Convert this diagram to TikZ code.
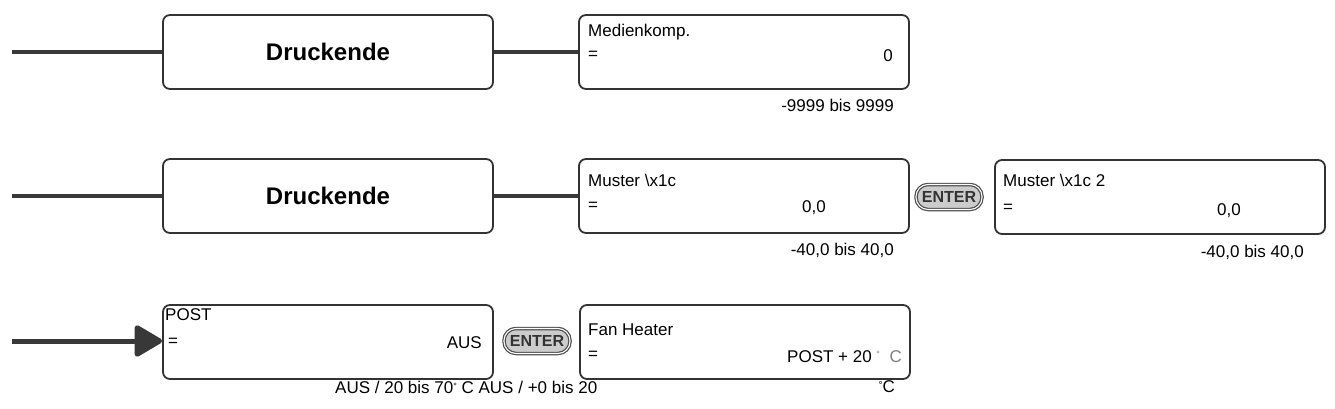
\documentclass[tikz,border=0pt]{standalone}
\usepackage{fontspec}
\setmainfont{Liberation Sans}
\usetikzlibrary{arrows.meta,positioning}

\begin{document}
\begin{tikzpicture}[
    x=1pt, y=-1pt,
    menu/.style={draw=black!80, line width=1.8pt, rounded corners=7pt, minimum width=330pt, minimum height=74pt, inner sep=0pt},
    conn/.style={draw=black!78, line width=4pt},
    arr/.style={draw=black!78, line width=5pt, -{Triangle[length=30pt,width=34pt,round]}},
    enterkey/.style={draw=black!70, fill=gray!40, line width=1.2pt, double=white, double distance=1.1pt, rounded corners=12pt, minimum width=66pt, minimum height=25pt, inner sep=0pt, text=black!80, font=\fontsize{16}{16}\selectfont\bfseries},
    txt/.style={font=\fontsize{17}{20}\selectfont, inner sep=0pt},
    head/.style={font=\fontsize{24}{26}\selectfont\bfseries},
]

\useasboundingbox[fill=white] (0,0) rectangle (1335,409);

% Row 1
\coordinate (start1) at (12,52);
\node[menu, head] (dr1) at (328,52) {Druckende};
\node[menu] (med) at (744,52) {};
\draw[conn] (start1) -- (dr1);
\draw[conn] (dr1) -- (med);

\node[txt, anchor=base west] (medT) at (588,37) {Medienkomp.};
\node[txt, anchor=base west] (medE) at (588,60) {=};
\node[txt, anchor=base east] (medV) at (893,62) {0};
\node[txt, anchor=base east] (medR) at (894,112) {-9999 bis 9999};

% Row 2
\coordinate (start2) at (12,196);
\node[menu, head] (dr2) at (328,196) {Druckende};
\node[menu] (mus) at (744,196) {};
\node[enterkey] (ent1) at (949,197) {ENTER};
\node[menu] (mus2) at (1160,197) {};
\draw[conn] (start2) -- (dr2);
\draw[conn] (dr2) -- (mus);

\node[txt, anchor=base west] (musT) at (588,186) {Muster \textbackslash x1c};
\node[txt, anchor=base west] (musE) at (588,210) {=};
\node[txt, anchor=base east] (musV) at (826,212) {0,0};
\node[txt, anchor=base east] (musR) at (894,255) {-40,0 bis 40,0};

\node[txt, anchor=base west] (mus2T) at (1003,186) {Muster \textbackslash x1c 2};
\node[txt, anchor=base west] (mus2E) at (1003,212) {=};
\node[txt, anchor=base east] (mus2V) at (1241,215) {0,0};
\node[txt, anchor=base east] (mus2R) at (1304,257) {-40,0 bis 40,0};

% Row 3
\coordinate (start3) at (12,341);
\node[menu] (post) at (328,342) {};
\node[enterkey] (ent2) at (537,341) {ENTER};
\node[menu] (fan) at (745,342) {};
\draw[arr] (start3) -- (post.west |- start3);

\node[txt, anchor=base west] (postT) at (165,320) {POST};
\node[txt, anchor=base west] (postE) at (168,346) {=};
\node[txt, anchor=base east] (postV) at (482,348) {AUS};
\node[txt, anchor=base west] (postR) at (335,393) {AUS / 20 bis 70\raisebox{0.35ex}{\fontsize{9}{9}\selectfont°} C AUS / +0 bis 20};

\node[txt, anchor=base west] (fanT) at (588,335) {Fan Heater};
\node[txt, anchor=base west] (fanE) at (588,359) {=};
\node[txt, anchor=base east] (fanV) at (902,362) {POST + 20 \raisebox{0.5ex}{\fontsize{9}{9}\selectfont\color{gray}°}\ \ {\color{gray}C}};
\node[txt, anchor=base east] (fanR) at (895,392) {\raisebox{0.35ex}{\fontsize{10}{10}\selectfont°}C};

\end{tikzpicture}
\end{document}
